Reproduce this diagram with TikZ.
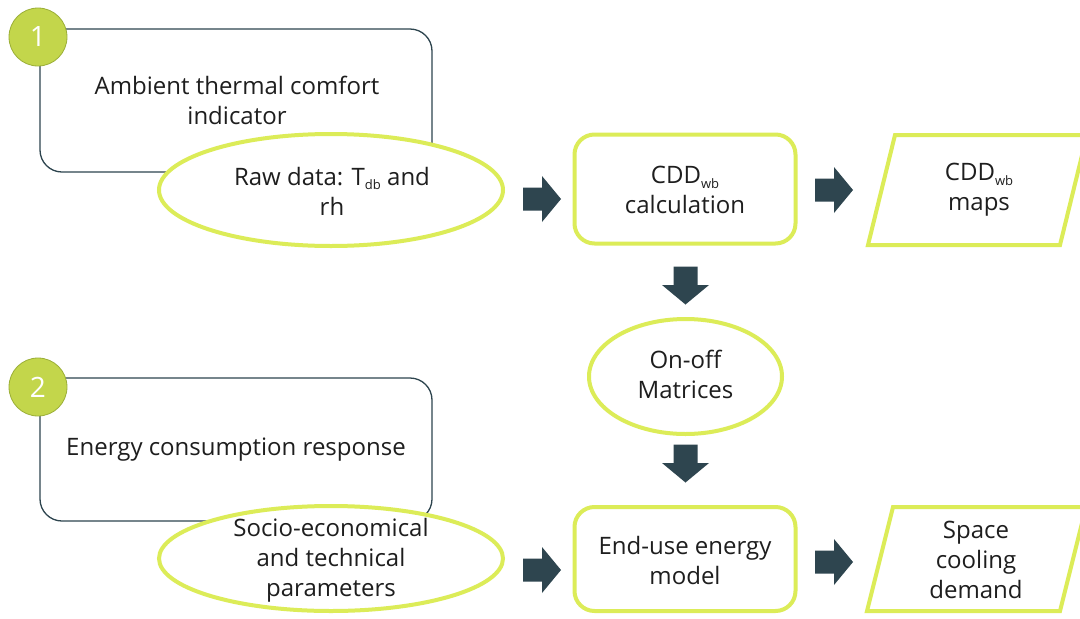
\documentclass[tikz,border=0pt]{standalone}
\usepackage{fontspec}
\setmainfont{Open Sans}
\usetikzlibrary{shapes.geometric}
\definecolor{lime}{RGB}{220,236,88}
\definecolor{olive}{RGB}{195,214,75}
\definecolor{olivedk}{RGB}{155,175,55}
\definecolor{slate}{RGB}{46,69,79}
\definecolor{ink}{RGB}{30,30,30}
\newcommand\sbs[1]{\raisebox{-0.35ex}{\fontsize{13}{13}\selectfont #1}}
\begin{document}
\begin{tikzpicture}[x=1pt,y=-1pt,
  frame/.style={draw=slate, line width=1.3pt, rounded corners=22pt, minimum width=392pt, minimum height=143pt, inner sep=0pt, fill=white},
  num/.style={circle, fill=olive, draw=olivedk, line width=0.8pt, minimum size=58pt, inner sep=0pt, text=white, font=\fontsize{28}{28}\selectfont},
  lbox/.style={draw=lime, line width=4pt, rounded corners=20pt, fill=white, inner sep=0pt, minimum width=221pt},
  lell/.style={ellipse, draw=lime, line width=4pt, fill=white, inner sep=0pt},
  lpar/.style={draw=lime, line width=4pt, fill=white, line join=miter},
  txt/.style={text=ink, align=center, font=\fontsize{24}{30}\selectfont, inner sep=0pt},
  rarrow/.pic={\fill[slate] (-19,-11.5) -- (0,-11.5) -- (0,-23) -- (19,0) -- (0,23) -- (0,11.5) -- (-19,11.5) -- cycle;},
  darrow/.pic={\fill[slate] (-12,-18.5) -- (12,-18.5) -- (12,0) -- (23.5,0) -- (0,19.5) -- (-23.5,0) -- (-12,0) -- cycle;}
]
\useasboundingbox (0,0) rectangle (1080,619);
\clip (0,0) rectangle (1080,619);
\fill[white] (0,0) rectangle (1080,619);

% Part 1
\node[frame] (r1) at (236,100.5) {};
\node[txt] (r1t) at (237,100) {Ambient thermal comfort\\indicator};
\node[num] (c1) at (38,37) {1};
\node[lell, minimum width=344pt, minimum height=112pt] (e1) at (331,190) {};
\node[txt] (e1t) at (332,191) {Raw data: T\sbs{db} and\\rh};
\node[lbox, minimum height=109pt] (calc) at (685,189) {};
\node[txt] (calct) at (685,190) {CDD\sbs{wb}\\calculation};
\draw[lpar] (895,135) -- (1087,135) -- (1060,245) -- (868,245) -- cycle;
\node[txt] (maps) at (979,190) {CDD\sbs{wb}\\maps};

% middle
\node[lell, minimum width=193pt, minimum height=115pt] (onoff) at (685.5,376.5) {};
\node[txt] (onofft) at (685.5,374) {On-off\\Matrices};

% Part 2
\node[frame] (r2) at (236,449.5) {};
\node[txt] (r2t) at (236,450) {Energy consumption response};
\node[num] (c2) at (38,387) {2};
\node[lell, minimum width=344pt, minimum height=105pt] (e2) at (331,558.5) {};
\node[txt] (e2t) at (331,560) {Socio-economical\\and technical\\parameters};
\node[lbox, minimum height=104pt] (enduse) at (685,559) {};
\node[txt] (enduset) at (685,560) {End-use energy\\model};
\draw[lpar] (893,507) -- (1086,507) -- (1060,611) -- (867,611) -- cycle;
\node[txt] (demand) at (976,560) {Space\\cooling\\demand};

% block arrows
\pic at (542,199) {rarrow};
\pic at (834,190) {rarrow};
\pic at (685.5,285) {darrow};
\pic at (685.5,463) {darrow};
\pic at (542,570) {rarrow};
\pic at (834,562) {rarrow};
\end{tikzpicture}
\end{document}
